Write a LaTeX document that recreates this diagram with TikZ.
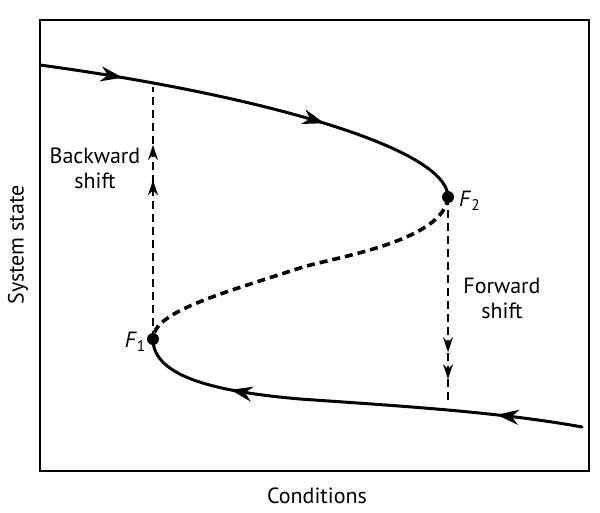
\documentclass[tikz,border=0pt]{standalone}
\usepackage{fontspec}
\setmainfont{PT Sans}
\usetikzlibrary{arrows.meta,decorations.markings}
\begin{document}
\begin{tikzpicture}[x=1pt,y=-1pt,
  lbl/.style={font=\fontsize{22}{25}\selectfont, align=center, inner sep=0pt},
  solidbranch/.style={line width=3pt, line cap=round},
  unstable/.style={line width=3.6pt, dash pattern=on 8pt off 5pt},
  shiftline/.style={line width=1.8pt, dash pattern=on 8pt off 5pt},
  fold/.style={circle, fill=black, inner sep=0pt, minimum size=12pt}
]
\useasboundingbox (0,0) rectangle (600,512);
\draw[line width=1.8pt] (40,20) rectangle (589,471);

\node[fold] (F2) at (448,197) {};
\node[fold] (F1) at (153,339) {};
\coordinate (topstart) at (40,65);
\coordinate (lowend) at (582,427);
\coordinate (backtop) at (153,87);
\coordinate (fwdbot) at (448,404);

% upper stable branch
\draw[solidbranch, postaction={decorate, decoration={markings,
    mark=at position 0.19 with {\arrow{Stealth[length=22pt,width=15pt,inset=7pt]}},
    mark=at position 0.66 with {\arrow{Stealth[length=22pt,width=15pt,inset=7pt]}}}}]
  (topstart) .. controls (260,95) and (448,148) .. (F2.center);

% lower stable branch
\draw[solidbranch, postaction={decorate, decoration={markings,
    mark=at position 0.19 with {\arrow{Stealth[length=22pt,width=15pt,inset=7pt]}},
    mark=at position 0.78 with {\arrow{Stealth[length=22pt,width=15pt,inset=7pt]}}}}]
  (lowend) .. controls (500,412) and (400,406) .. (300,399)
           .. controls (220,392) and (153,378) .. (F1.center);

% unstable branch
\draw[unstable] (F2.center) .. controls (444,242) and (330,258) .. (300,268)
                  .. controls (220,294) and (153,312) .. (F1.center);

% backward shift
\draw[shiftline, postaction={decorate, decoration={markings,
    mark=at position 0.63 with {\arrow{Stealth[length=15pt,width=10pt,inset=5pt]}},
    mark=at position 0.77 with {\arrow{Stealth[length=15pt,width=10pt,inset=5pt]}}}}]
  (F1.center) -- (backtop);

% forward shift
\draw[shiftline, postaction={decorate, decoration={markings,
    mark=at position 0.75 with {\arrow{Stealth[length=15pt,width=10pt,inset=5pt]}},
    mark=at position 0.88 with {\arrow{Stealth[length=15pt,width=10pt,inset=5pt]}}}}]
  (F2.center) -- (fwdbot);

\node[lbl] (bw) at (95,168) {Backward\\shift};
\node[lbl] (fw) at (502,298) {Forward\\shift};
\node[lbl, anchor=west] (lF2) at (459,201) {\textit{F}\textsubscript{2}};
\node[lbl, anchor=east] (lF1) at (146,342) {\textit{F}\textsubscript{1}};
\node[lbl, rotate=90] (ylab) at (18,245) {System state};
\node[lbl] (xlab) at (317,496) {Conditions};
\end{tikzpicture}
\end{document}
